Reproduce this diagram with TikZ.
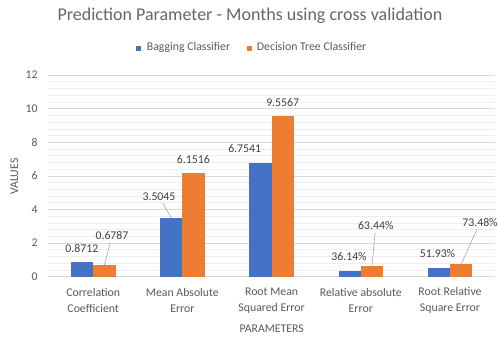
\documentclass[tikz,border=0pt]{standalone}
\usepackage{fontspec}
\setmainfont{Carlito}
\definecolor{bagblue}{HTML}{4472C4}
\definecolor{treeorange}{HTML}{ED7D31}
\definecolor{axistext}{HTML}{595959}
\definecolor{titletext}{HTML}{666666}
\definecolor{labeltext}{HTML}{404040}
\definecolor{majorgrid}{HTML}{D9D9D9}
\definecolor{minorgrid}{HTML}{EEEEEE}
\definecolor{leadergray}{HTML}{A6A6A6}
\newcommand\chartfont{\fontsize{11.8}{15.6}\selectfont}
\begin{document}
\begin{tikzpicture}[x=1pt,y=1pt,
  bar/.style={rectangle, draw=none, minimum width=22.3, inner sep=0, outer sep=0},
  datalabel/.style={font=\chartfont, text=labeltext, inner sep=1.5pt},
  ticklabel/.style={font=\chartfont, text=axistext, anchor=east, inner sep=0},
  catlabel/.style={font=\chartfont, text=axistext, align=center, inner sep=0},
  leader/.style={draw=leadergray, line width=0.6pt, shorten <=1.5pt},
  legendkey/.style={rectangle, minimum size=5, inner sep=0}]
\useasboundingbox (0,0) rectangle (498,338);
% value v sits at y = 61.3 + 16.8 v
% minor gridlines every 0.4
\foreach \k in {1,...,29} {
  \pgfmathsetmacro\gy{61.3+16.8*0.4*\k}
  \draw[minorgrid, line width=0.7pt] (48.3,\gy) -- (495.3,\gy);
}
% major gridlines and tick labels
\foreach \v in {0,2,...,12} {
  \pgfmathsetmacro\gy{61.3+16.8*\v}
  \draw[majorgrid, line width=0.8pt] (48.3,\gy) -- (495.3,\gy);
  \node[ticklabel] (t\v) at (37.7,\gy) {\v};
}
% bars
\foreach \i/\bv/\ov in {1/0.8712/0.6787, 2/3.5045/6.1516, 3/6.7541/9.5567, 4/0.3614/0.6344, 5/0.5193/0.7348} {
  \pgfmathsetmacro\cx{93.2+89.2*(\i-1)}
  \node[bar, fill=bagblue, minimum height={16.8*\bv}, anchor=south east] (b\i) at (\cx,61.3) {};
  \node[bar, fill=treeorange, minimum height={16.8*\ov}, anchor=south west] (o\i) at (\cx,61.3) {};
}
% data labels
\node[datalabel] (lb1) at (81.8,89) {0.8712};
\node[datalabel] (lo1) at (112,102.3) {0.6787};
\node[datalabel] (lb2) at (159,141.3) {3.5045};
\node[datalabel] (lo2) at (193.3,178.7) {6.1516};
\node[datalabel] (lb3) at (244.7,189) {6.7541};
\node[datalabel] (lo3) at (282.7,235.7) {9.5567};
\node[datalabel] (lb4) at (349,81.3) {36.14\%};
\node[datalabel] (lo4) at (375.8,112.3) {63.44\%};
\node[datalabel] (lb5) at (437.5,84.7) {51.93\%};
\node[datalabel] (lo5) at (480,115.7) {73.48\%};
% leader lines
\draw[leader] (lo1) -- (o1.north);
\draw[leader] (lb2) -- (b2.north);
\draw[leader] (lo4) -- (o4.north);
\draw[leader] (lo5) -- (o5.north);
% category labels
\node[catlabel] (c1) at (93.2,37.5) {Correlation\\Coefficient};
\node[catlabel] (c2) at (182.4,37.5) {Mean Absolute\\Error};
\node[catlabel] (c3) at (271.6,37.5) {Root Mean\\Squared Error};
\node[catlabel] (c4) at (360.8,37.5) {Relative absolute\\Error};
\node[catlabel] (c5) at (450,37.5) {Root Relative\\Square Error};
% axis titles
\node[font=\chartfont, text=axistext] (xt) at (271.7,9) {PARAMETERS};
\node[font=\chartfont, text=axistext, rotate=90] (yt) at (14.3,161.3) {VALUES};
% chart title
\node[font=\fontsize{18}{22}\selectfont, text=titletext, anchor=base] (title) at (250,317.3) {Prediction Parameter - Months using cross validation};
% legend
\node[legendkey, fill=bagblue] (k1) at (138.7,289.7) {};
\node[font=\chartfont, text=axistext, anchor=base west, inner sep=0] (n1) at (146.7,287) {Bagging Classifier};
\node[legendkey, fill=treeorange] (k2) at (249.3,289.7) {};
\node[font=\chartfont, text=axistext, anchor=base west, inner sep=0] (n2) at (256.7,287) {Decision Tree Classifier};
\end{tikzpicture}
\end{document}
